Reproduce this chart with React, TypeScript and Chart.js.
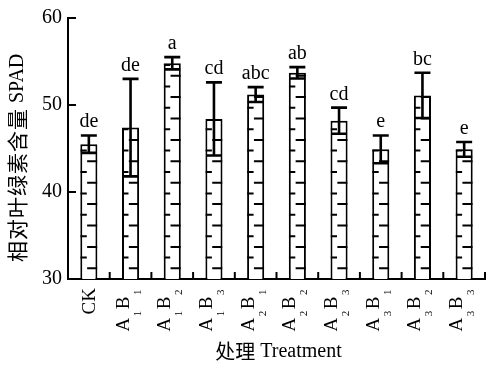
import React, { useEffect, useRef } from 'react';
import { Chart, registerables } from 'chart.js';

Chart.register(...registerables);

const categories = ['CK', 'A1B1', 'A1B2', 'A1B3', 'A2B1', 'A2B2', 'A2B3', 'A3B1', 'A3B2', 'A3B3'];
const means = [45.5, 47.4, 54.8, 48.4, 51.2, 53.7, 48.2, 44.9, 51.1, 44.9];
const errors = [1.0, 5.6, 0.7, 4.2, 0.85, 0.65, 1.5, 1.6, 2.6, 0.85];
const letters = ['de', 'de', 'a', 'cd', 'abc', 'ab', 'cd', 'e', 'bc', 'e'];
const yMin = 30;
const yMax = 60;
const yStep = 10;
const xTitleCn = '处理';
const xTitleEn = 'Treatment';
const yTitleCn = '相对叶绿素含量';
const yTitleEn = 'SPAD';

const SERIF = '"Liberation Serif", "Times New Roman", serif';
const CJK = '"Noto Sans CJK SC", "Noto Sans CJK JP", sans-serif';

function splitLabel(s: string) {
  const parts: { t: string; sub: boolean }[] = [];
  if (!/\d/.test(s)) return [{ t: s, sub: false }];
  for (const ch of s) parts.push({ t: ch, sub: /\d/.test(ch) });
  return parts;
}

const drawPlugin = {
  id: 'customDraw',
  afterDatasetsDraw(chart: any) {
    const ctx = chart.ctx as CanvasRenderingContext2D;
    const ys = chart.scales.y;
    const area = chart.chartArea;
    const meta = chart.getDatasetMeta(0);
    ctx.save();
    meta.data.forEach((bar: any, i: number) => {
      const { x, y, width } = bar.getProps(['x', 'y', 'width'], true);
      const base = area.bottom;
      const l = x - width / 2;
      const r = x + width / 2;
      // fill pattern
      ctx.save();
      ctx.beginPath();
      ctx.rect(l, y, width, base - y);
      ctx.clip();
      ctx.strokeStyle = '#000';
      ctx.lineWidth = 2;
      for (let k = 1; k < 100; k++) {
        const yy = base - k * 10.7;
        if (yy < y) break;
        ctx.beginPath();
        if (k % 2 === 1) {
          ctx.moveTo(l + width * 0.4, yy);
          ctx.lineTo(r, yy);
        } else {
          ctx.moveTo(l, yy);
          ctx.lineTo(l + width * 0.38, yy);
        }
        ctx.stroke();
      }
      ctx.restore();
      // error bar
      const yt = ys.getPixelForValue(means[i] + errors[i]);
      const yb = ys.getPixelForValue(means[i] - errors[i]);
      ctx.strokeStyle = '#000';
      ctx.lineWidth = 2.6;
      ctx.beginPath();
      ctx.moveTo(x, yt);
      ctx.lineTo(x, yb);
      ctx.moveTo(x - 8, yt);
      ctx.lineTo(x + 8, yt);
      ctx.moveTo(x - 8, yb);
      ctx.lineTo(x + 8, yb);
      ctx.stroke();
      // significance letters
      ctx.fillStyle = '#000';
      ctx.font = '20px ' + SERIF;
      ctx.textAlign = 'center';
      ctx.textBaseline = 'alphabetic';
      ctx.fillText(letters[i], x, yt - 8);
    });
    ctx.restore();
  },
  afterDraw(chart: any) {
    const ctx = chart.ctx as CanvasRenderingContext2D;
    const area = chart.chartArea;
    const xs = chart.scales.x;
    const ys = chart.scales.y;
    ctx.save();
    ctx.strokeStyle = '#000';
    ctx.lineWidth = 2;
    // y inward ticks
    for (let v = yMin + yStep; v <= yMax; v += yStep) {
      const py = ys.getPixelForValue(v);
      ctx.beginPath();
      ctx.moveTo(area.left, py);
      ctx.lineTo(area.left + 8, py);
      ctx.stroke();
    }
    // x boundary ticks
    const n = categories.length;
    const cw = (area.right - area.left) / n;
    for (let k = 1; k <= n; k++) {
      const px = area.left + k * cw;
      ctx.beginPath();
      ctx.moveTo(px, area.bottom);
      ctx.lineTo(px, area.bottom - 7);
      ctx.stroke();
    }
    // x labels (rotated, with subscripts)
    ctx.fillStyle = '#000';
    ctx.textBaseline = 'alphabetic';
    ctx.textAlign = 'left';
    const mainFont = '19px ' + SERIF;
    const subFont = '11px ' + SERIF;
    categories.forEach((c, i) => {
      const cx = xs.getPixelForValue(i);
      const parts = splitLabel(c);
      const hasSub = parts.some((p) => p.sub);
      let total = 0;
      const widths = parts.map((p) => {
        ctx.font = p.sub ? subFont : mainFont;
        const w = ctx.measureText(p.t).width + (hasSub ? 1.5 : 0);
        total += w;
        return w;
      });
      const b = hasSub ? -2 : 6;
      ctx.save();
      ctx.translate(cx, area.bottom + 9);
      ctx.rotate(-Math.PI / 2);
      let px = -total;
      parts.forEach((p, j) => {
        ctx.font = p.sub ? subFont : mainFont;
        ctx.fillText(p.t, px, p.sub ? b + 12 : b);
        px += widths[j];
      });
      ctx.restore();
    });
    // x title
    ctx.font = '20px ' + CJK;
    const wCn = ctx.measureText(xTitleCn).width;
    ctx.font = '20px ' + SERIF;
    const wEn = ctx.measureText(' ' + xTitleEn).width;
    const xtStart = (area.left + area.right) / 2 - (wCn + wEn) / 2 + 2;
    ctx.textBaseline = 'middle';
    ctx.font = '20px ' + CJK;
    ctx.fillText(xTitleCn, xtStart, 351);
    ctx.font = '20px ' + SERIF;
    ctx.fillText(' ' + xTitleEn, xtStart + wCn, 352);
    // y title
    ctx.save();
    ctx.translate(17, 0);
    ctx.rotate(-Math.PI / 2);
    ctx.font = '21px ' + CJK;
    ctx.textBaseline = 'middle';
    let py = -262;
    for (const ch of yTitleCn) {
      ctx.fillText(ch, py, 0);
      py += 22;
    }
    ctx.font = '20px ' + SERIF;
    ctx.fillText(' ' + yTitleEn, py, 1);
    ctx.restore();
    ctx.restore();
  },
};

export default function App() {
  const ref = useRef<HTMLCanvasElement | null>(null);
  useEffect(() => {
    if (!ref.current) return;
    const chart = new Chart(ref.current, {
      type: 'bar',
      data: {
        labels: categories,
        datasets: [
          {
            data: means,
            backgroundColor: '#ffffff',
            borderColor: '#000000',
            borderWidth: 2,
            barPercentage: 0.41,
            categoryPercentage: 1,
          },
        ],
      },
      options: {
        responsive: false,
        animation: false,
        layout: { padding: { top: 14, right: 2, left: 0, bottom: 0 } },
        plugins: { legend: { display: false }, tooltip: { enabled: false } },
        scales: {
          x: {
            grid: { display: false, drawTicks: false },
            border: { display: true, color: '#000', width: 2 },
            ticks: { display: false },
            afterFit: (s: any) => {
              s.height = 88;
            },
          },
          y: {
            min: yMin,
            max: yMax,
            grid: { display: false, drawTicks: false },
            border: { display: true, color: '#000', width: 2 },
            ticks: {
              stepSize: yStep,
              color: '#000',
              padding: 6,
              font: { family: SERIF, size: 20 },
            },
            afterFit: (s: any) => {
              s.width = 68;
            },
          },
        },
      },
      plugins: [drawPlugin],
    });
    return () => chart.destroy();
  }, []);
  return (
    <div style={{ position: 'fixed', left: 0, top: 0, width: 487, height: 367, background: '#fff' }}>
      <canvas ref={ref} width={487} height={367} style={{ display: 'block' }} />
    </div>
  );
}
